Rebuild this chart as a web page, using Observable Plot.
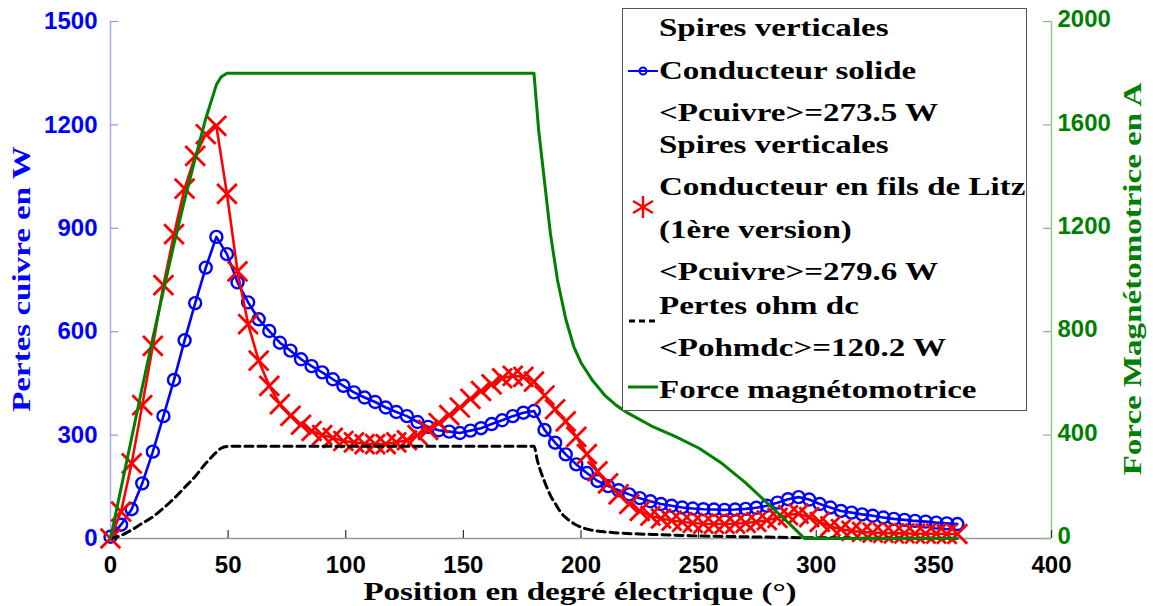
<!DOCTYPE html>
<html><head><meta charset="utf-8">
<script src="https://cdn.jsdelivr.net/npm/d3@7"></script>
<script src="https://cdn.jsdelivr.net/npm/@observablehq/plot@0.6"></script>
<style>
body{margin:0;background:#fff;}
#wrap{position:relative;width:1153px;height:606px;overflow:hidden;background:#fff;}
#legend{position:absolute;left:622px;top:8px;width:405px;height:403px;border:1px solid #555;background:#fff;box-sizing:border-box;color:#000;}
.serif{font-family:"Liberation Serif","Times New Roman",serif;font-weight:bold;font-size:26px;white-space:nowrap;line-height:1;}
.row{position:absolute;left:36px;transform-origin:0 50%;}
.sym{position:absolute;left:2px;}
.lab{position:absolute;}
</style></head>
<body><div id="wrap"></div>
<script>
// ---- data ----
const positions = [0,4.5,9,13.5,18,22.5,27,31.5,36,40.5,45,49.5,54,58.5,63,67.5,72,76.5,81,85.5,90,94.5,99,103.5,108,112.5,117,121.5,126,130.5,135,139.5,144,148.5,153,157.5,162,166.5,171,175.5,180,184.5,189,193.5,198,202.5,207,211.5,216,220.5,225,229.5,234,238.5,243,247.5,252,256.5,261,265.5,270,274.5,279,283.5,288,292.5,297,301.5,306,310.5,315,319.5,324,328.5,333,337.5,342,346.5,351,355.5,360];
const solide = [5,40,85,160,252,355,460,575,683,786,875,825,743,685,636,602,568,545,520,500,482,462,443,424,409,396,380,367,355,338,324,314,310,306,313,320,332,343,355,365,370,315,278,244,215,190,167,152,140,128,117,108,100,95,90,87,85,84,83,84,86,89,95,104,114,120,113,100,90,80,75,70,66,61,57,54,51,49,46,44,42];
const litz = [0,78,218,387,559,735,883,1015,1110,1173,1197,1000,775,622,516,443,390,356,330,312,300,292,283,279,274,274,274,279,285,300,315,335,358,380,405,428,447,465,472,469,455,415,375,340,295,245,195,160,128,100,80,66,58,52,48,45,43,42,42,43,45,48,53,60,68,72,62,48,35,27,22,19,17,16,15,15,14,14,14,13,13];
const ohmPos = [0,4.5,9,13.5,18,22.5,27,31.5,36,40.5,45,47,49.5,54,180,181.5,183,184.5,186,187.5,189,191.5,194,197,200,204,209,214,225,234,243,252,261,270,279,288,297,306,315,324,333,342,351,360];
const ohmVal = [0,9,25,44,63,88,116,148,180,218,250,262,267,268,268,225,192,165,140,118,102,75,58,43,33,25,20,17,13,11,9,7,6,5,4,3,2,2,1,1,1,0,0,0];
const mmfPos = [0,4.5,9,13.5,18,22.5,27,31.5,36,40.5,45,47,49.5,180,182,184.5,187,190,193.5,197,200,205,210,215,220,230,240,250,260,270,280,290,295,300,360];
const mmfVal = [0,195,390,585,775,960,1140,1310,1470,1625,1755,1785,1800,1800,1580,1380,1180,1000,850,740,680,610,555,515,485,435,395,350,290,215,130,45,0,0,0];
const xTicks = [0,50,100,150,200,250,300,350,400];
const yTicks = [0,300,600,900,1200,1500];
const mmfTicks = [0,400,800,1200,1600,2000];
const legendLines = ["Spires verticales","Conducteur solide","<Pcuivre>=273.5 W","Spires verticales","Conducteur en fils de Litz","(1ère version)","<Pcuivre>=279.6 W","Pertes ohm dc","<Pohmdc>=120.2 W","Force magnétomotrice"];

// ---- build ----
const ratio = 1500/2000;
const blueData = positions.map((p,i)=>({x:p,y:solide[i]}));
const redData = positions.map((p,i)=>({x:p,y:litz[i]}));
const ohmData = ohmPos.map((p,i)=>({x:p,y:ohmVal[i]}));
const mmfData = mmfPos.map((p,i)=>({x:p,y:mmfVal[i]*ratio}));
const W=1153,H=606,ML=110,MR=102,MT=21,MB=68;
const fw=W-ML-MR, fh=H-MT-MB, TL=8;

const plot = Plot.plot({
  width:W, height:H,
  marginLeft:ML, marginRight:MR, marginTop:MT, marginBottom:MB,
  x:{domain:[0,400]}, y:{domain:[0,1500]},
  style:{background:"white", fontFamily:"'Liberation Sans', Arial, sans-serif", overflow:"visible"},
  marks:[
    Plot.ruleY([0],{stroke:"#999",strokeWidth:1.5}),
    Plot.ruleX([0],{stroke:"#a8a8ff",strokeWidth:1.5}),
    Plot.ruleX([400],{stroke:"#90cc90",strokeWidth:1.5}),
    Plot.tickX(xTicks,{x:d=>d, insetTop:fh-TL, stroke:"#333", strokeWidth:1.2}),
    Plot.tickY(yTicks,{y:d=>d, insetRight:fw-TL, stroke:"#9090ff", strokeWidth:1.2}),
    Plot.tickY(mmfTicks.map(v=>v*ratio),{y:d=>d, insetLeft:fw-TL, stroke:"#80c080", strokeWidth:1.2}),
    Plot.axisX({ticks:xTicks, tickSize:0, tickPadding:17, fontSize:24, fontWeight:"bold", fill:"black", label:null, tickFormat:d=>String(d)}),
    Plot.axisY({ticks:yTicks, anchor:"left", tickSize:0, tickPadding:13, fontSize:24, fontWeight:"bold", fill:"#0000ff", label:null, tickFormat:d=>String(d)}),
    Plot.axisY({ticks:mmfTicks.map(v=>v*ratio), anchor:"right", tickSize:0, tickPadding:6, dy:-2, fontSize:24, fontWeight:"bold", fill:"#008000", label:null, tickFormat:d=>String(Math.round(d/ratio))}),
    Plot.line(blueData,{x:"x",y:"y",stroke:"#0000ff",strokeWidth:2.6}),
    Plot.dot(blueData,{x:"x",y:"y",r:6,stroke:"#0000ff",strokeWidth:2.4,fill:"none"}),
    Plot.line(redData,{x:"x",y:"y",stroke:"#ff0000",strokeWidth:2.6}),
    Plot.dot(redData,{x:"x",y:"y",symbol:"times",r:9,stroke:"#ff0000",strokeWidth:2.8}),
    Plot.line(ohmData,{x:"x",y:"y",stroke:"#000",strokeWidth:3,strokeDasharray:"8,5",curve:"monotone-x"}),
    Plot.line(mmfData,{x:"x",y:"y",stroke:"#008000",strokeWidth:3})
  ]
});
const wrap = document.getElementById("wrap");
wrap.appendChild(plot);

const SX = 1.27;
// axis titles
function addLabel(text, color, cx, cy, rot){
  const d = document.createElement("div");
  d.className="lab serif"; d.textContent=text; d.style.color=color;
  d.style.left=cx+"px"; d.style.top=cy+"px";
  d.style.transform=`translate(-50%,-50%) rotate(${rot}deg) scaleX(${SX})`;
  wrap.appendChild(d);
}
addLabel("Position en degré électrique (°)","#000",580,592,0);
addLabel("Pertes cuivre en W","#0000ff",22,279,-90);
addLabel("Force Magnétomotrice en A","#008000",1133,279,-90);

// legend
const leg = document.createElement("div"); leg.id="legend"; wrap.appendChild(leg);
const rowY = [28,71,113,145,187,230,272,306,348,390];
legendLines.forEach((t,i)=>{
  const r=document.createElement("div"); r.className="row serif"; r.textContent=t;
  r.style.top=(rowY[i]-9)+"px";
  r.style.transform=`translateY(-50%) scaleX(${SX})`;
  leg.appendChild(r);
});
function sym(svg, cy){
  const d=document.createElement("div"); d.className="sym"; d.style.top=(cy-9-12)+"px";
  d.innerHTML=`<svg width="34" height="24" viewBox="0 0 34 24">${svg}</svg>`;
  leg.appendChild(d);
}
sym(`<line x1="3" y1="12" x2="33" y2="12" stroke="#0000ff" stroke-width="2"/><circle cx="18" cy="12" r="3.5" fill="none" stroke="#0000ff" stroke-width="2"/>`,71);
sym(`<g stroke="#ff0000" stroke-width="2.5"><line x1="18" y1="1" x2="18" y2="23"/><line x1="8" y1="6" x2="28" y2="18"/><line x1="8" y1="18" x2="28" y2="6"/></g>`,207);
sym(`<line x1="4" y1="12" x2="32" y2="12" stroke="#000" stroke-width="3" stroke-dasharray="6,4"/>`,321);
sym(`<line x1="3" y1="12" x2="33" y2="12" stroke="#008000" stroke-width="3"/>`,387);
</script>
</body></html>
